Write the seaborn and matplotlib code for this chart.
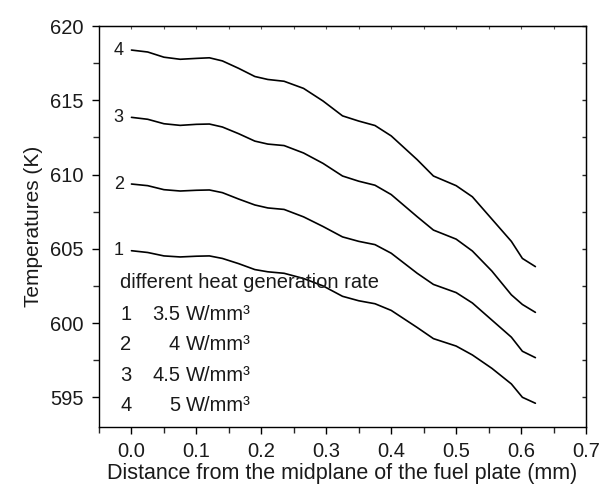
import numpy as np
import pandas as pd
import seaborn as sns
import matplotlib.pyplot as plt
from matplotlib.ticker import MultipleLocator

# distance from midplane (mm)
x = [0.0, 0.025, 0.05, 0.075, 0.1, 0.12, 0.14, 0.165, 0.19, 0.21, 0.235, 0.265, 0.295,
     0.325, 0.35, 0.375, 0.4, 0.44, 0.465, 0.5, 0.525, 0.555, 0.585, 0.602, 0.622]

# temperatures (K) for each heat generation rate
t_35 = [604.87, 604.75, 604.52, 604.45, 604.5, 604.52, 604.35, 604.0, 603.6, 603.45, 603.35, 603.0, 602.5,
        601.8, 601.5, 601.3, 600.85, 599.7, 598.95, 598.45, 597.85, 596.95, 595.9, 595.0, 594.6]
t_40 = [609.36, 609.25, 608.98, 608.89, 608.94, 608.96, 608.78, 608.35, 607.95, 607.75, 607.65, 607.15, 606.5,
        605.8, 605.5, 605.28, 604.7, 603.35, 602.6, 602.05, 601.35, 600.2, 599.05, 598.1, 597.67]
t_45 = [613.85, 613.72, 613.42, 613.31, 613.38, 613.4, 613.2, 612.75, 612.25, 612.05, 611.95, 611.45, 610.75,
        609.9, 609.55, 609.28, 608.65, 607.16, 606.26, 605.65, 604.85, 603.5, 601.9, 601.25, 600.72]
t_50 = [618.38, 618.25, 617.9, 617.76, 617.82, 617.86, 617.65, 617.15, 616.6, 616.4, 616.28, 615.8, 614.95,
        613.95, 613.6, 613.3, 612.6, 611.0, 609.9, 609.25, 608.5, 607.0, 605.5, 604.35, 603.8]

curve_ids = ['1', '2', '3', '4']
rates = ['3.5', '4', '4.5', '5']

df = pd.concat([pd.DataFrame({'x': x, 'T': t, 'curve': cid})
                for t, cid in zip([t_35, t_40, t_45, t_50], curve_ids)])

sns.set_style('ticks')
plt.rcParams['font.family'] = ['Liberation Sans', 'DejaVu Sans']
txt_c = '#1a1a1a'

fig = plt.figure(figsize=(6.1, 4.88), dpi=100)
ax = fig.add_axes([0.1623, 0.125, 0.7984, 0.8217])

sns.lineplot(data=df, x='x', y='T', hue='curve', palette=['black'] * 4,
             linewidth=1.2, legend=False, ax=ax, sort=False)

ax.set_xlim(-0.05, 0.7)
ax.set_ylim(593, 620)
ax.xaxis.set_minor_locator(MultipleLocator(0.05))
ax.yaxis.set_major_locator(MultipleLocator(5))
ax.yaxis.set_minor_locator(MultipleLocator(2.5))
ax.set_xticks(np.arange(0, 0.71, 0.1))
ax.set_xticklabels(['%.1f' % v for v in np.arange(0, 0.71, 0.1)])

for s in ax.spines.values():
    s.set_linewidth(1.0)
    s.set_color('black')

ax.tick_params(which='major', direction='out', length=5, width=1, labelsize=14.5,
               top=False, right=False, color='black', labelcolor=txt_c)
ax.tick_params(axis='x', which='major', pad=6)
ax.tick_params(axis='y', which='major', pad=6)
ax.tick_params(which='minor', direction='out', length=4, width=1, top=False, right=False)
# tiny inward ticks on top and right spines
ax_t = ax.secondary_xaxis('top')
ax_t.xaxis.set_major_locator(MultipleLocator(0.05))
ax_t.tick_params(direction='in', length=2, width=0.8, labeltop=False, colors='#555555')
ax_r = ax.secondary_yaxis('right')
ax_r.yaxis.set_major_locator(MultipleLocator(2.5))
ax_r.tick_params(direction='in', length=3, width=1, labelright=False)

ax.set_xlabel('Distance from the midplane of the fuel plate (mm)', fontsize=15.5, labelpad=1, color=txt_c)
ax.set_ylabel('Temperatures (K)', fontsize=15, labelpad=5, color=txt_c)

# curve labels
for t, cid in zip([t_35, t_40, t_45, t_50], curve_ids):
    ax.text(-0.012, t[0], cid, ha='right', va='center', fontsize=13, color=txt_c)

# in-plot legend text
ax.text(-0.017, 602.7, 'different heat generation rate', fontsize=14.5, va='center', ha='left', color=txt_c)
for i, (cid, r) in enumerate(zip(curve_ids, rates)):
    yy = 600.6 - i * 2.05
    ax.text(-0.017, yy, cid, fontsize=14.5, va='center', ha='left', color=txt_c)
    ax.text(0.075, yy, r, fontsize=14.5, va='center', ha='right', color=txt_c)
    ax.text(0.084, yy, 'W/mm\u00b3', fontsize=14.5, va='center', ha='left', color=txt_c)

fig.savefig('out.png', dpi=100)
